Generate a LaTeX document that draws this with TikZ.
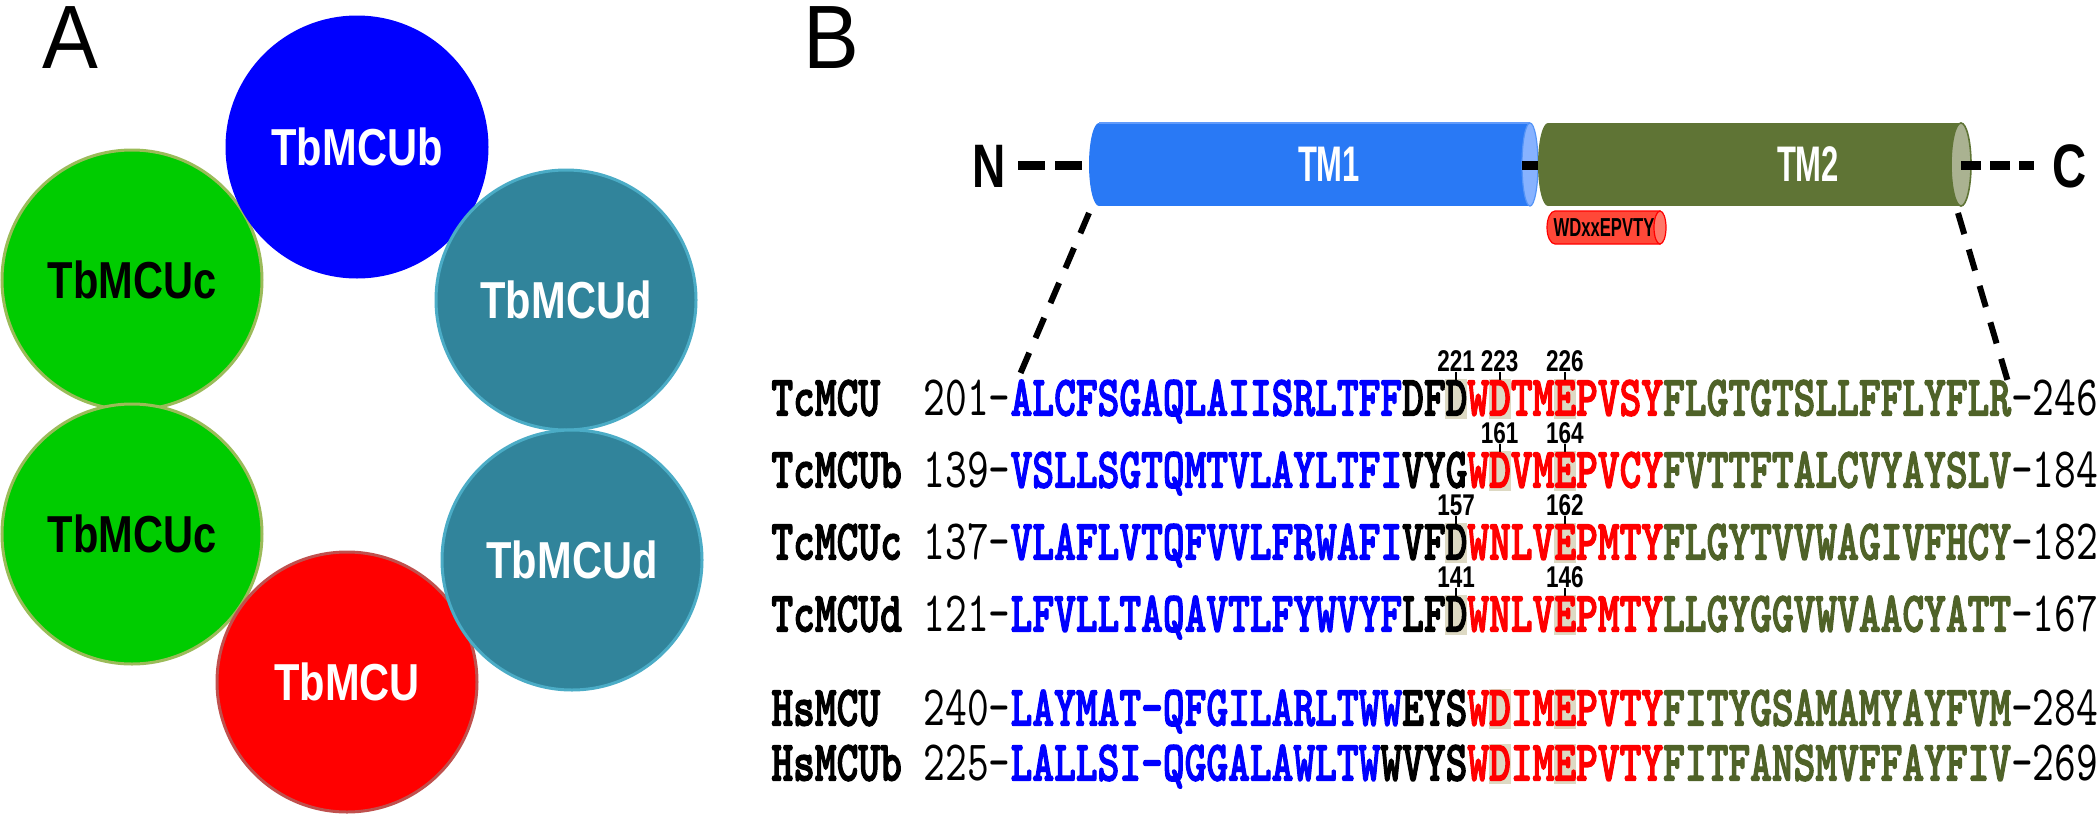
\documentclass[tikz,border=0pt]{standalone}
\usepackage{fontspec}
\setmainfont{Liberation Sans}
\usepackage{graphicx}
\IfFontExistsTF{lmmonolt10-bold.otf}
 {\newfontfamily\seqbf{lmmonolt10-bold.otf}[FakeBold=2.5]\newfontfamily\seqmd{lmmono10-regular.otf}%
  \newcommand\seqsize{\fontsize{20.714}{20}\selectfont}\newcommand\vs[1]{\scalebox{1}[1.38]{#1}}}
 {\newfontfamily\seqbf{Liberation Mono}[UprightFont={* Bold}]\newfontfamily\seqmd{Liberation Mono}%
  \newcommand\seqsize{\fontsize{18.125}{18}\selectfont}\newcommand\vs[1]{\scalebox{1}[1.25]{#1}}}
\definecolor{bluecirc}{RGB}{0,0,255}
\definecolor{greencirc}{RGB}{0,204,0}
\definecolor{greenedge}{RGB}{155,187,89}
\definecolor{tealcirc}{RGB}{49,132,155}
\definecolor{tealedge}{RGB}{75,172,198}
\definecolor{redcirc}{RGB}{255,0,0}
\definecolor{rededge}{RGB}{192,80,77}
\definecolor{tmblue}{RGB}{41,121,245}
\definecolor{tmbluecap}{RGB}{135,178,255}
\definecolor{tmolive}{RGB}{95,116,53}
\definecolor{tmolivecap}{RGB}{170,178,145}
\definecolor{motif}{RGB}{255,72,56}
\definecolor{motifcap}{RGB}{255,120,105}
\definecolor{seqblue}{RGB}{0,0,255}
\definecolor{seqred}{RGB}{255,0,0}
\definecolor{seqgreen}{RGB}{79,98,40}
\definecolor{hl}{RGB}{221,217,195}
\newcommand\cw{21.75}
\newcommand\seqrow[9]{%
  \node[seqname] (#1-name) at (771,#2) {\vs{#3}};
  \node[seqnum] (#1-num) at (923.25,#2) {\vs{#4-}};
  \node[seqres] (#1-seq) at (1010.25,#2) {\vs{\textcolor{seqblue}{#5}\textcolor{black}{#6}\textcolor{seqred}{#7}\textcolor{seqgreen}{#8}{\seqmd -#9}}};}
\newcommand\hlbox[2]{\fill[hl] ({771+#1*\cw},{#2-19}) rectangle ({771+(#1+1)*\cw},{#2+21});}
\newcommand\reslab[4]{%
  \node[numlab] (#1) at ({771+(#2+0.5)*\cw},{#3-37}) {\scalebox{0.75}[1]{#4}};
  \coordinate (#1-t) at ({771+(#2+0.5)*\cw},{#3-15});
  \draw[tickline] (#1.south) -- (#1-t);}
\tikzset{
  circ/.style={circle, inner sep=0, minimum size=130pt, line width=1.5pt,
    font=\bfseries\fontsize{26}{26}\selectfont},
  seqname/.style={anchor=base west, inner sep=0, text depth=0pt, font=\seqbf\seqsize},
  seqnum/.style={anchor=base west, inner sep=0, text depth=0pt, font=\seqmd\seqsize},
  seqres/.style={anchor=base west, inner sep=0, text depth=0pt, font=\seqbf\seqsize},
  numlab/.style={inner sep=0pt, font=\bfseries\fontsize{15}{15}\selectfont},
  tickline/.style={line width=1pt, black},
  tmtext/.style={inner sep=0, text=white, font=\bfseries\fontsize{25}{25}\selectfont},
  zoomline/.style={line width=3pt, dash pattern=on 11pt off 8pt},
  backbone/.style={line width=4.5pt},
  panel/.style={anchor=base west, inner sep=0, font=\fontsize{45}{45}\selectfont},
  term/.style={anchor=base, inner sep=0, font=\bfseries\fontsize{30.7}{30}\selectfont}
}
\begin{document}
\begin{tikzpicture}[x=0.5pt,y=-0.5pt]
\useasboundingbox (0,0) rectangle (2100,814);
\fill[white] (0,0) rectangle (2100,814);
% ---------- Panel A ----------
\node[panel] (labA) at (42,68) {\scalebox{0.93}[1]{A}};
\node[circ, fill=greencirc, draw=greenedge, text=black] (c1) at (132,280) {\scalebox{0.8}[1]{TbMCUc}};
\node[circ, fill=greencirc, draw=greenedge, text=black] (c2) at (132,534) {\scalebox{0.8}[1]{TbMCUc}};
\node[circ, fill=bluecirc, draw=bluecirc, text=white] (b1) at (357,147) {\scalebox{0.8}[1]{TbMCUb}};
\node[circ, fill=redcirc, draw=rededge, text=white] (r1) at (347,682) {\scalebox{0.8}[1]{TbMCU}};
\node[circ, fill=tealcirc, draw=tealedge, text=white] (d1) at (566,300) {\scalebox{0.8}[1]{TbMCUd}};
\node[circ, fill=tealcirc, draw=tealedge, text=white] (d2) at (572,560) {\scalebox{0.8}[1]{TbMCUd}};
% ---------- Panel B ----------
\node[panel] (labB) at (803,68) {\scalebox{0.93}[1]{B}};
\node[term] (N) at (989,187) {\scalebox{0.75}[1]{N}};
\node[term] (C) at (2070,187) {\scalebox{0.77}[1]{C}};
% backbone dashes
\coordinate (bbL1) at (1018,165);
\coordinate (bbL2) at (1086,165);
\draw[backbone, dash pattern=on 13.5pt off 5pt] (bbL1) -- (bbL2);
% TM1 cylinder
\fill[tmblue] (1099,123) rectangle (1530,206);
\fill[tmblue] (1099,164.5) ellipse [x radius=5pt, y radius=20.75pt];
\draw[tmbluecap!60!tmblue, line width=0.8pt] (1099,123) -- (1530,123);
\filldraw[fill=tmbluecap, draw=tmblue!80!white, line width=0.6pt] (1530,164.5) ellipse [x radius=4pt, y radius=20.75pt];
\coordinate (jn1) at (1522,165);
\coordinate (jn2) at (1540,165);
\draw[backbone] (jn1) -- (jn2);
% TM2 cylinder
\fill[tmolive] (1548,123) rectangle (1961,206);
\fill[tmolive] (1548,164.5) ellipse [x radius=5pt, y radius=20.75pt];
\filldraw[fill=tmolivecap, draw=tmolive, line width=0.8pt] (1961,164.5) ellipse [x radius=5pt, y radius=20.75pt];
\coordinate (bbR1) at (1961,165);
\coordinate (bbR2) at (2034,165);
\draw[backbone, dash pattern=on 10pt off 4.5pt] (bbR1) -- (bbR2);
\node[tmtext] (tm1) at (1329,164) {\scalebox{0.62}[1]{TM1}};
\node[tmtext] (tm2) at (1808,164) {\scalebox{0.62}[1]{TM2}};
% motif cylinder
\filldraw[fill=motif, draw=red, line width=0.6pt] (1555,211) -- (1660,211) -- (1660,244) -- (1555,244)
  arc[start angle=-90, end angle=-270, x radius=4pt, y radius=8.25pt] -- cycle;
\filldraw[fill=motifcap, draw=red, line width=0.6pt] (1660,227.5) ellipse [x radius=3pt, y radius=8.25pt];
\node[inner sep=0, font=\bfseries\fontsize{13}{13}\selectfont] (motiflab) at (1604,228) {\scalebox{0.64}[1]{WDxxEPVTY}};
% zoom lines
\coordinate (zl1) at (1089,213);
\coordinate (zl2) at (1015,386);
\coordinate (zr1) at (1958,213);
\coordinate (zr2) at (2008,382);
\draw[zoomline] (zl1) -- (zl2);
\draw[zoomline] (zr1) -- (zr2);
% highlight boxes
\hlbox{31}{398}\hlbox{33}{398}\hlbox{36}{398}
\hlbox{33}{470}\hlbox{36}{470}
\hlbox{31}{542}\hlbox{36}{542}
\hlbox{31}{614}\hlbox{36}{614}
\hlbox{33}{708}\hlbox{36}{708}
\hlbox{33}{763}\hlbox{36}{763}
% residue labels
\reslab{l221}{31}{398}{221}\reslab{l223}{33}{398}{223}\reslab{l226}{36}{398}{226}
\reslab{l161}{33}{470}{161}\reslab{l164}{36}{470}{164}
\reslab{l157}{31}{542}{157}\reslab{l162}{36}{542}{162}
\reslab{l141}{31}{614}{141}\reslab{l146}{36}{614}{146}
% sequences
\seqrow{r1}{415.5}{TcMCU}{201}{ALCFSGAQLAIISRLTFF}{DFD}{WDTMEPVSY}{FLGTGTSLLFFLYFLR}{246}
\seqrow{r2}{487.5}{TcMCUb}{139}{VSLLSGTQMTVLAYLTFI}{VYG}{WDVMEPVCY}{FVTTFTALCVYAYSLV}{184}
\seqrow{r3}{559.5}{TcMCUc}{137}{VLAFLVTQFVVLFRWAFI}{VFD}{WNLVEPMTY}{FLGYTVVWAGIVFHCY}{182}
\seqrow{r4}{631.5}{TcMCUd}{121}{LFVLLTAQAVTLFYWVYF}{LFD}{WNLVEPMTY}{LLGYGGVWVAACYATT}{167}
\seqrow{r5}{725.5}{HsMCU}{240}{LAYMAT-QFGILARLTWW}{EYS}{WDIMEPVTY}{FITYGSAMAMYAYFVM}{284}
\seqrow{r6}{780.5}{HsMCUb}{225}{LALLSI-QGGALAWLTW}{WVYS}{WDIMEPVTY}{FITFANSMVFFAYFIV}{269}
\end{tikzpicture}
\end{document}
